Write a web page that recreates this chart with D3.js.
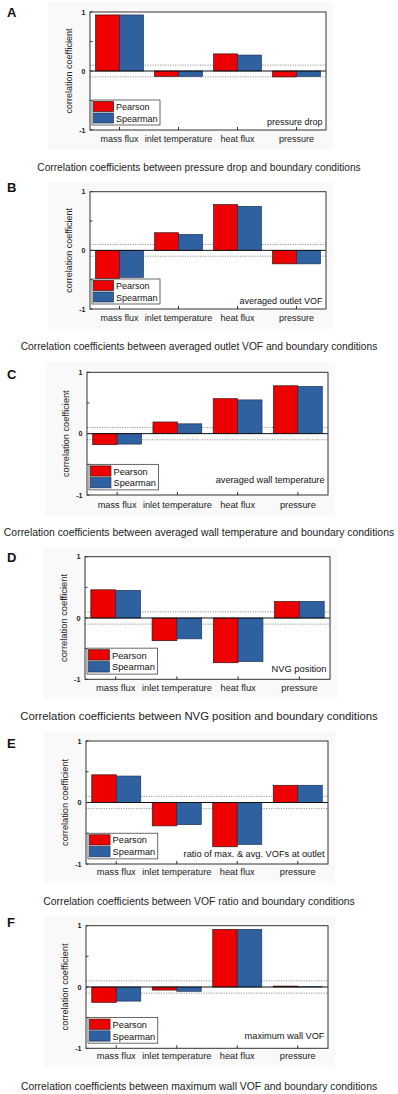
<!DOCTYPE html>
<html>
<head>
<meta charset="utf-8">
<script src="https://cdn.jsdelivr.net/npm/d3@7"></script>
<style>
  body { margin: 0; background: #fff; }
  svg text { font-family: "Liberation Sans", Arial, sans-serif; }
</style>
</head>
<body>
<div class="chart"></div>
<script>
const WIDTH = 398;
const HEIGHT = 1094;

// data
const categories = ["mass flux", "inlet temperature", "heat flux", "pressure"];
const seriesNames = ["Pearson", "Spearman"];
const seriesColors = ["#ee0000", "#2f61a0"];
const panelLetters = ["A", "B", "C", "D", "E", "F"];
const targets = ["pressure drop", "averaged outlet VOF", "averaged wall temperature",
  "NVG position", "ratio of max. & avg. VOFs at outlet", "maximum wall VOF"];
const captions = [
  "Correlation coefficients between pressure drop and boundary conditions",
  "Correlation coefficients between averaged outlet VOF and boundary conditions",
  "Correlation coefficients between averaged wall temperature and boundary conditions",
  "Correlation coefficients between NVG position and boundary conditions",
  "Correlation coefficients between VOF ratio and boundary conditions",
  "Correlation coefficients between maximum wall VOF and boundary conditions"
];
const pearson = [
  [0.95, -0.09, 0.29, -0.10],
  [-0.48, 0.30, 0.78, -0.23],
  [-0.18, 0.19, 0.57, 0.78],
  [0.46, -0.37, -0.73, 0.27],
  [0.45, -0.38, -0.72, 0.28],
  [-0.25, -0.05, 0.94, 0.015]
];
const spearman = [
  [0.95, -0.09, 0.27, -0.09],
  [-0.46, 0.27, 0.75, -0.23],
  [-0.17, 0.16, 0.55, 0.77],
  [0.45, -0.34, -0.71, 0.27],
  [0.43, -0.36, -0.68, 0.28],
  [-0.23, -0.07, 0.94, 0.005]
];
const yTickLabels = [1, 0, -1];
const yTickMarks = [1, 0.5, 0, -0.5, -1];
const threshold = 0.1;

// panel placement
const layout = [
  {left: 90, right: 326, top: 12, bottom: 130, letterY: 17, labelY: 141.5, capY: 170.5, capW: 324, tagDy: 5},
  {left: 90, right: 326, top: 191.7, bottom: 309, letterY: 192, labelY: 321, capY: 350, capW: 357, tagDy: 5},
  {left: 87, right: 328, top: 372.3, bottom: 495, letterY: 378.5, labelY: 507.5, capY: 536, capW: 391, tagDy: 12},
  {left: 85, right: 330, top: 556.7, bottom: 679.3, letterY: 562, labelY: 691, capY: 720, capW: 358, tagDy: 7},
  {left: 86, right: 328, top: 741, bottom: 864, letterY: 748, labelY: 875, capY: 905, capW: 312, tagDy: 7},
  {left: 86, right: 328, top: 925.7, bottom: 1048.3, letterY: 927, labelY: 1059, capY: 1090, capW: 357, tagDy: 9}
];

var svg = d3.select(".chart").append("svg")
  .attr("width", WIDTH)
  .attr("height", HEIGHT);

var drawPanel = function(p) {
  var L = layout[p];
  var k = (L.right - L.left) / 236;
  var g = svg.append("g");

  var x0 = d3.scaleBand()
    .domain(categories)
    .range([L.left, L.right])
    .paddingInner(0.19)
    .paddingOuter(0.095);
  var x1 = d3.scaleBand()
    .domain(seriesNames)
    .range([0, x0.bandwidth()]);
  var y = d3.scaleLinear()
    .domain([-1, 1])
    .range([L.bottom, L.top]);

  // figure background
  g.append("rect")
    .attr("x", L.left - 42).attr("y", L.top - 10)
    .attr("width", L.right - L.left + 49)
    .attr("height", L.labelY + 8 - (L.top - 10))
    .attr("fill", "#f9f9f9");
  g.append("rect")
    .attr("x", L.left).attr("y", L.top)
    .attr("width", L.right - L.left).attr("height", L.bottom - L.top)
    .attr("fill", "#fff");

  // +-0.1 dotted guides
  g.selectAll(".guide")
    .data([threshold, -threshold])
    .enter().append("line")
    .attr("x1", L.left).attr("x2", L.right)
    .attr("y1", function(d) { return y(d); })
    .attr("y2", function(d) { return y(d); })
    .attr("stroke", "#777")
    .attr("stroke-width", 0.8)
    .attr("stroke-dasharray", "1.2,1.3");

  var rows = categories.map(function(c, i) {
    return {cat: c, values: [pearson[p][i], spearman[p][i]]};
  });

  var groups = g.selectAll(".cat")
    .data(rows)
    .enter().append("g")
    .attr("transform", function(d) { return "translate(" + x0(d.cat) + ",0)"; });

  groups.selectAll("rect")
    .data(function(d) {
      return d.values.map(function(v, j) { return {name: seriesNames[j], v: v, j: j}; });
    })
    .enter().append("rect")
    .attr("x", function(d) { return x1(d.name); })
    .attr("y", function(d) { return y(Math.max(0, d.v)); })
    .attr("width", x1.bandwidth())
    .attr("height", function(d) { return Math.abs(y(d.v) - y(0)); })
    .attr("fill", function(d) { return seriesColors[d.j]; })
    .attr("stroke", function(d) { return d.j === 0 ? "#3a1010" : "#1c3356"; })
    .attr("stroke-width", 0.7);

  // zero line
  g.append("line")
    .attr("x1", L.left).attr("x2", L.right)
    .attr("y1", y(0)).attr("y2", y(0))
    .attr("stroke", "#111")
    .attr("stroke-width", 1);

  // box
  g.append("rect")
    .attr("x", L.left).attr("y", L.top)
    .attr("width", L.right - L.left).attr("height", L.bottom - L.top)
    .attr("fill", "none")
    .attr("stroke", "#333")
    .attr("stroke-width", 1);

  // ticks
  g.selectAll(".ytick")
    .data(yTickMarks)
    .enter().append("line")
    .attr("x1", L.left).attr("x2", L.left + 2.5)
    .attr("y1", function(d) { return y(d); })
    .attr("y2", function(d) { return y(d); })
    .attr("stroke", "#333");
  g.selectAll(".xtick")
    .data(categories)
    .enter().append("line")
    .attr("x1", function(d) { return x0(d) + x0.bandwidth() / 2; })
    .attr("x2", function(d) { return x0(d) + x0.bandwidth() / 2; })
    .attr("y1", L.bottom).attr("y2", L.bottom - 3)
    .attr("stroke", "#333");

  g.selectAll(".ylabel")
    .data(yTickLabels)
    .enter().append("text")
    .attr("x", L.left - 4.5)
    .attr("y", function(d) { return y(d) + 2.5; })
    .attr("text-anchor", "end")
    .attr("font-size", 7 * k)
    .attr("font-weight", "bold")
    .attr("fill", "#222")
    .text(function(d) { return d; });

  g.append("text")
    .attr("transform", "translate(" + (L.left - 18.5) + "," + ((L.top + L.bottom) / 2) + ") rotate(-90)")
    .attr("text-anchor", "middle")
    .attr("font-size", 9 * k)
    .attr("fill", "#222")
    .text("correlation coefficient");

  g.selectAll(".catlabel")
    .data(categories)
    .enter().append("text")
    .attr("x", function(d) { return x0(d) + x0.bandwidth() / 2; })
    .attr("y", L.labelY)
    .attr("text-anchor", "middle")
    .attr("font-size", 9 * k)
    .attr("fill", "#222")
    .text(function(d) { return d; });

  // legend
  var lx = L.left + 2, ly = L.bottom - 30 * k;
  var lg = g.append("g").attr("transform", "translate(" + lx + "," + ly + ")");
  lg.append("rect")
    .attr("width", 68 * k).attr("height", 25 * k)
    .attr("fill", "#fff").attr("stroke", "#444").attr("stroke-width", 0.8);
  lg.selectAll(".sw")
    .data(seriesNames)
    .enter().append("rect")
    .attr("x", 1.5 * k)
    .attr("y", function(d, i) { return (1.5 + i * 11.5) * k; })
    .attr("width", 20 * k).attr("height", 10 * k)
    .attr("fill", function(d, i) { return seriesColors[i]; })
    .attr("stroke", function(d, i) { return i === 0 ? "#3a1010" : "#1c3356"; })
    .attr("stroke-width", 0.7);
  lg.selectAll(".lt")
    .data(seriesNames)
    .enter().append("text")
    .attr("x", 24 * k)
    .attr("y", function(d, i) { return (10 + i * 11.5) * k; })
    .attr("font-size", 9 * k)
    .attr("fill", "#111")
    .text(function(d) { return d; });

  g.append("text")
    .attr("x", L.right - 3.5)
    .attr("y", L.bottom - L.tagDy)
    .attr("text-anchor", "end")
    .attr("font-size", 9 * k)
    .attr("fill", "#111")
    .text(targets[p]);

  g.append("text")
    .attr("x", 7)
    .attr("y", L.letterY)
    .attr("font-size", 13)
    .attr("font-weight", "bold")
    .attr("fill", "#111")
    .text(panelLetters[p]);

  var cap = g.append("text")
    .attr("x", 199)
    .attr("y", L.capY)
    .attr("text-anchor", "middle")
    .attr("font-size", 10)
    .attr("fill", "#222")
    .text(captions[p]);
  var w = cap.node().getComputedTextLength();
  cap.attr("font-size", 10 * L.capW / w);
};

window.onload = function() {
  for (var p = 0; p < panelLetters.length; p++) {
    drawPanel(p);
  }
};
</script>
</body>
</html>
